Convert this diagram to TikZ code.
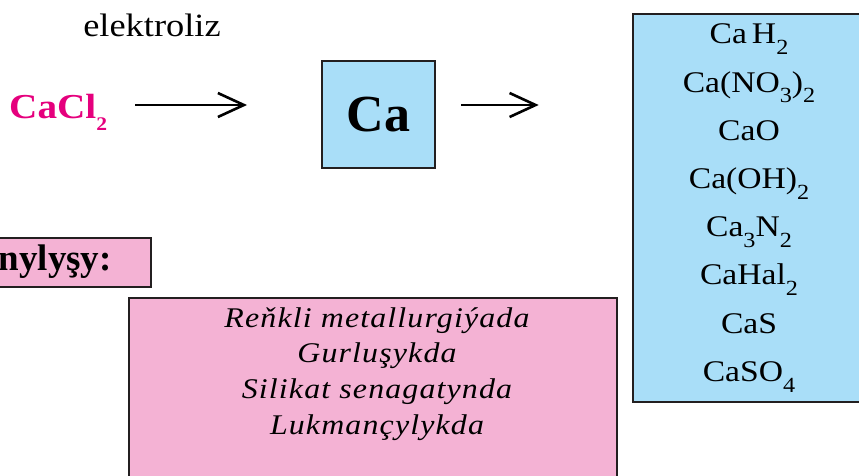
\documentclass[tikz,border=0pt]{standalone}
\usepackage{fontspec}
\setmainfont{Liberation Serif}
\newfontfamily\slimfont{Liberation Serif}[FakeStretch=1.12]
\newfontfamily\spacedfont{Liberation Serif}[FakeStretch=1.12,LetterSpace=4]
\usepackage{tikz}
\usetikzlibrary{positioning,arrows.meta}
\usepackage{xcolor}
\definecolor{skyfill}{HTML}{A9DEF8}
\definecolor{pinkfill}{HTML}{F4B2D4}
\definecolor{inkline}{HTML}{231F20}
\definecolor{magentatext}{HTML}{E5007D}
\newcommand{\sub}[2][0.72]{\raisebox{-0.36em}{\scalebox{#1}{#2}}}

\begin{document}
\begin{tikzpicture}[x=1pt,y=-1pt,
  box/.style={draw=inkline,line width=2.6pt,inner sep=0pt},
  blue box/.style={box,fill=skyfill},
  pink box/.style={box,fill=pinkfill},
  arr/.style={line width=2.6pt,-{Straight Barb[length=26pt,width=24pt]}}]
\clip (0,0) rectangle (859,475);
\coordinate (axis) at (0,105);
\node[font=\slimfont\fontsize{32.5}{38}\selectfont,anchor=base] (el) at (152,36) {elektroliz};
\node[font=\slimfont\bfseries\fontsize{35}{40}\selectfont,text=magentatext,inner sep=0pt,anchor=base west] (cacl) at (9,118) {CaCl\sub[0.55]{2}};
\node[blue box,line width=2pt,minimum width=113pt,minimum height=107pt,font=\bfseries\fontsize{52}{60}\selectfont] (ca) at (378.5,114.5) {Ca};
\node[blue box,minimum width=232pt,minimum height=388pt,align=center,font=\slimfont\fontsize{30}{48.2}\selectfont] (prod) at (749,208)
  {Ca\,H\sub{2}\\ Ca(NO\sub{3})\sub{2}\\ CaO\\ Ca(OH)\sub{2}\\ Ca\sub{3}N\sub{2}\\ CaHal\sub{2}\\ CaS\\ CaSO\sub{4}};
\draw[arr,shorten <=28pt,shorten >=74pt] (cacl.east |- axis) -- (ca.west |- axis);
\draw[arr,shorten <=25pt,shorten >=93pt] (ca.east |- axis) -- (prod.west |- axis);
% ulanylysy
\draw[pink box] (-10,238) rectangle (151,287);
\node[font=\bfseries\fontsize{37}{44}\selectfont,inner sep=0pt,anchor=base east] (use) at (112,270) {nylyşy:};
\draw[pink box] (129,298) rectangle (617,480);
\node[align=center,font=\spacedfont\itshape\fontsize{28.5}{35.7}\selectfont] (fields) at (377,373.8)
  {Reňkli metallurgiýada\\ Gurluşykda\\ Silikat senagatynda\\ Lukmançylykda};
\end{tikzpicture}
\end{document}
